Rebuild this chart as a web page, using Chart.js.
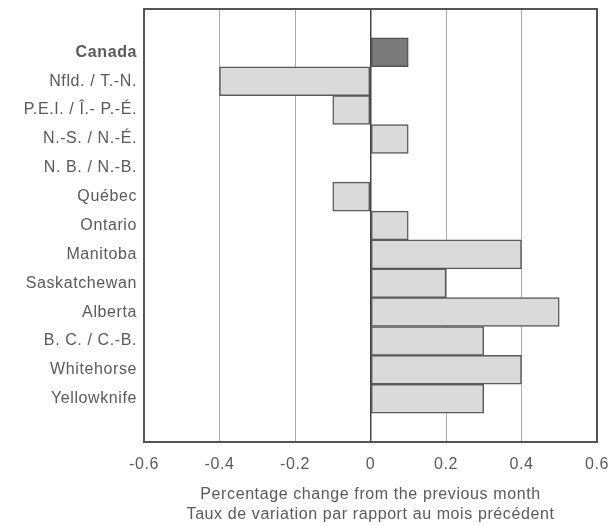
<!DOCTYPE html>
<html>
<head>
<meta charset="utf-8">
<script src="https://cdn.jsdelivr.net/npm/chart.js@4"></script>
<style>
html,body{margin:0;padding:0;background:#fff;}
#wrap{width:613px;height:525px;}
</style>
</head>
<body>
<div id="wrap"><canvas id="c" width="613" height="525"></canvas></div>
<script>
const categories = ['', 'Canada', 'Nfld. / T.-N.', 'P.E.I. / Î.- P.-É.', 'N.-S. / N.-É.', 'N. B. / N.-B.', 'Québec', 'Ontario', 'Manitoba', 'Saskatchewan', 'Alberta', 'B. C. / C.-B.', 'Whitehorse', 'Yellowknife', ''];
const values = [null, 0.1, -0.4, -0.1, 0.1, 0, -0.1, 0.1, 0.4, 0.2, 0.5, 0.3, 0.4, 0.3, null];
const xTicks = [-0.6, -0.4, -0.2, 0, 0.2, 0.4, 0.6];
const xTitle = ['Percentage change from the previous month', 'Taux de variation par rapport au mois précédent'];

const frame = {
  id: 'frame',
  beforeDraw(chart) {
    chart.ctx.letterSpacing = '0.6px';
  },
  afterDatasetsDraw(chart) {
    const a = chart.chartArea, ctx = chart.ctx;
    ctx.save();
    ctx.strokeStyle = '#555';
    ctx.lineWidth = 2;
    ctx.strokeRect(a.left, a.top, a.right - a.left, a.bottom - a.top);
    ctx.restore();
  }
};

Chart.defaults.font.family = '"Liberation Sans", Arial, sans-serif';
new Chart(document.getElementById('c'), {
  type: 'bar',
  data: {
    labels: categories,
    datasets: [{
      data: values,
      backgroundColor: categories.map(c => c === 'Canada' ? '#7a7a7a' : '#dadada'),
      borderColor: categories.map(c => c === 'Canada' ? '#555' : '#5a5a5a'),
      borderWidth: 1.5,
      borderSkipped: false,
      barPercentage: 1,
      categoryPercentage: 1
    }]
  },
  options: {
    indexAxis: 'y',
    responsive: false,
    animation: false,
    layout: { padding: { left: 0, right: 16, top: 9, bottom: 0 } },
    plugins: { legend: { display: false }, tooltip: { enabled: false } },
    scales: {
      x: {
        min: -0.6, max: 0.6,
        afterBuildTicks(s) { s.ticks = xTicks.map(v => ({ value: v })); },
        afterFit(s) { s.height = 83; s.paddingLeft = 0; s.paddingRight = 0; },
        grid: {
          color: ctx => (ctx.tick && ctx.tick.value === 0) ? '#444' : '#aaa',
          lineWidth: ctx => (ctx.tick && ctx.tick.value === 0) ? 1.5 : 1,
          drawTicks: false
        },
        border: { display: false },
        ticks: {
          color: '#5a5a5a', font: { size: 16 }, padding: 13,
          callback: v => String(v)
        },
        title: {
          display: true, text: xTitle, color: '#5a5a5a', font: { size: 16, lineHeight: 1.25 },
          padding: { top: 8, bottom: 0 }
        }
      },
      y: {
        afterFit(s) { s.width = 144; s.paddingTop = 0; s.paddingBottom = 0; },
        grid: { display: false, drawTicks: false },
        border: { display: false },
        ticks: {
          color: '#5a5a5a', padding: 7,
          font: ctx => ({ size: 16, weight: (ctx.tick && ctx.tick.label === 'Canada') ? 'bold' : 'normal' })
        }
      }
    }
  },
  plugins: [frame]
});
</script>
</body>
</html>
